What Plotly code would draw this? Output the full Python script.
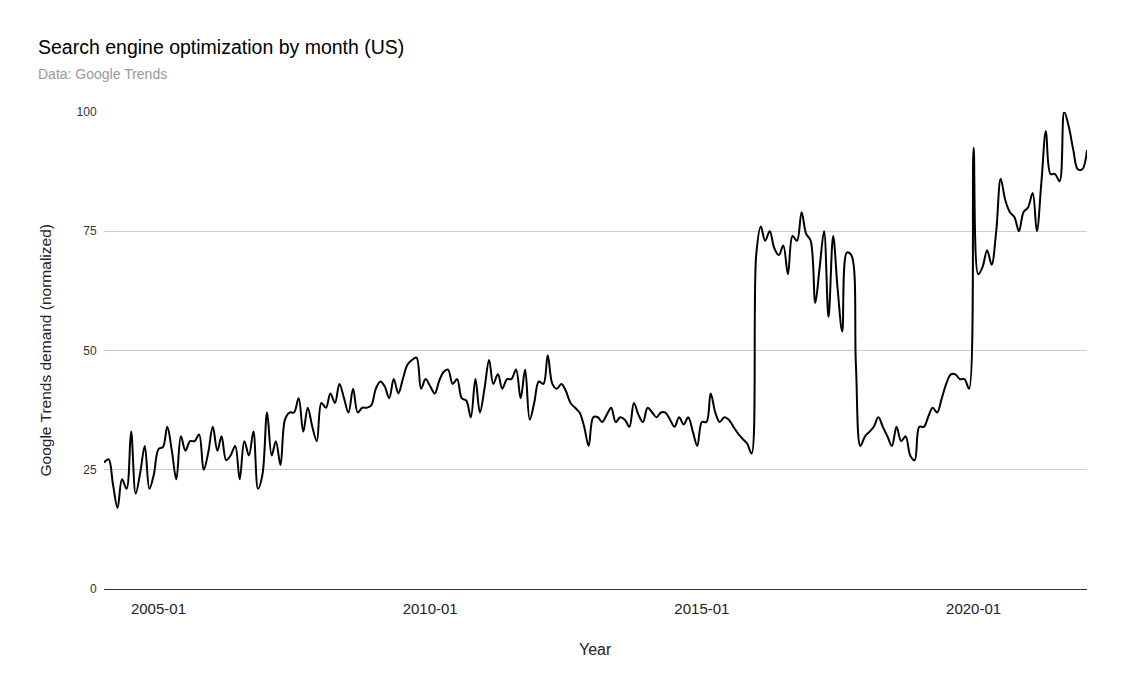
import plotly.graph_objects as go

years = list(range(2004, 2023))

# Monthly Google Trends values (US), 2004-01 .. 2022-02
demand = [
    26.5, 27.2, 22, 17, 23, 21, 33, 20, 24.5, 30, 21, 24,          # 2004
    29.3, 29.8, 34, 29, 23, 32, 29, 31, 31, 32.4, 25, 28.5,        # 2005
    34, 29, 32, 27, 28, 30, 23, 31, 28, 33, 21, 24,                # 2006
    37, 28, 31, 26, 35.5, 37, 37, 40, 33, 38, 34, 31,              # 2007
    39, 38, 41, 39, 43, 40, 37, 42, 37, 38, 38, 38.5,              # 2008
    42, 43.5, 42.5, 40, 44, 41, 44, 47, 48, 48.5, 42, 44,          # 2009
    42.5, 41, 43.5, 45.5, 46, 43, 44, 40, 39.5, 36, 44, 37,        # 2010
    42, 48, 43, 45, 42, 44, 44, 46, 40, 46, 35.5, 39,              # 2011
    43.5, 43, 49, 43, 42, 43, 41.5, 39, 38, 37, 34, 30,            # 2012
    36, 36, 35, 36.5, 38, 35, 36, 35.5, 34, 39, 36.5, 35,          # 2013
    38, 37, 36, 37, 37, 35.5, 34, 36, 34.5, 36, 33, 30,            # 2014
    35, 35, 41, 37, 35, 36, 35.5, 34, 32.6, 31.5, 30.5, 28.4,      # 2015
    70, 76, 73, 75, 71.5, 70, 72, 66, 74, 73, 79, 74.5,            # 2016
    73, 60, 67, 75, 57, 74, 63, 54, 70.5, 70, 47, 30,              # 2017
    32, 33, 34, 36, 34, 32, 30, 34, 31, 32, 28, 27,                # 2018
    34, 34, 36, 38, 37, 40, 43, 45, 45, 44, 44, 42,                # 2019
    92.5, 66, 67.5, 71, 68, 75, 86, 81.5, 79, 78, 75, 79,          # 2020
    80, 83, 75, 85.5, 96, 87, 87, 85.5, 100, 97, 92, 88,           # 2021
    88, 92,                                                        # 2022
]

months = [f"{y}-{m:02d}-01" for y in years for m in range(1, 13)][:len(demand)]

y_ticks = [0, 25, 50, 75, 100]
x_ticks = ["2005-01-01", "2010-01-01", "2015-01-01", "2020-01-01"]
x_tick_text = ["2005-01", "2010-01", "2015-01", "2020-01"]

FONT = "Liberation Sans, Arial, sans-serif"

# page has an 8px body margin; figure is sized to fit inside it
W, H = 1106, 678
L, R, T, B = 96, 27, 104, 97
PW, PH = W - L - R, H - T - B  # plot area size


def px_x(page_x):
    return (page_x - 8 - L) / PW


def px_y(page_y):
    return (H - B - (page_y - 8)) / PH


fig = go.Figure()
fig.add_trace(go.Scatter(
    x=months, y=demand, mode="lines",
    line=dict(color="#000000", width=2, shape="spline", smoothing=1),
    hoverinfo="x+y", showlegend=False,
))

fig.update_layout(
    width=W, height=H,
    margin=dict(l=L, r=R, t=T, b=B, pad=0),
    paper_bgcolor="white", plot_bgcolor="white",
    font=dict(family=FONT, color="#222"),
    xaxis=dict(
        range=[months[0], months[-1]],
        tickvals=x_ticks, ticktext=x_tick_text,
        showgrid=False, zeroline=False,
        showline=True, linecolor="#333333", linewidth=1,
        ticks="outside", ticklen=6, tickcolor="rgba(0,0,0,0)",
        tickfont=dict(size=15, color="#222"),
    ),
    yaxis=dict(
        range=[0, 100], tickvals=y_ticks,
        showgrid=True, gridcolor="#cccccc", gridwidth=1,
        zeroline=False, showline=False,
        ticks="outside", ticklen=4, tickcolor="rgba(0,0,0,0)",
        tickfont=dict(size=12, color="#333333"),
    ),
    annotations=[
        dict(text="Search engine optimization by month (US)", xref="paper", yref="paper",
             x=px_x(36), y=px_y(47), xanchor="left", yanchor="middle",
             showarrow=False, font=dict(size=19.5, color="#000", family=FONT)),
        dict(text="Data: Google Trends", xref="paper", yref="paper",
             x=px_x(36), y=px_y(74), xanchor="left", yanchor="middle",
             showarrow=False, font=dict(size=14, color="#999999", family=FONT)),
        dict(text="Google Trends demand (normalized)", xref="paper", yref="paper",
             x=px_x(45), y=0.5, xanchor="center", yanchor="middle", textangle=-90,
             showarrow=False, font=dict(size=15.5, color="#222", family=FONT)),
        dict(text="Year", xref="paper", yref="paper",
             x=0.5, y=px_y(649), xanchor="center", yanchor="middle",
             showarrow=False, font=dict(size=16, color="#222", family=FONT)),
    ],
)

fig.write_html("out.html")
